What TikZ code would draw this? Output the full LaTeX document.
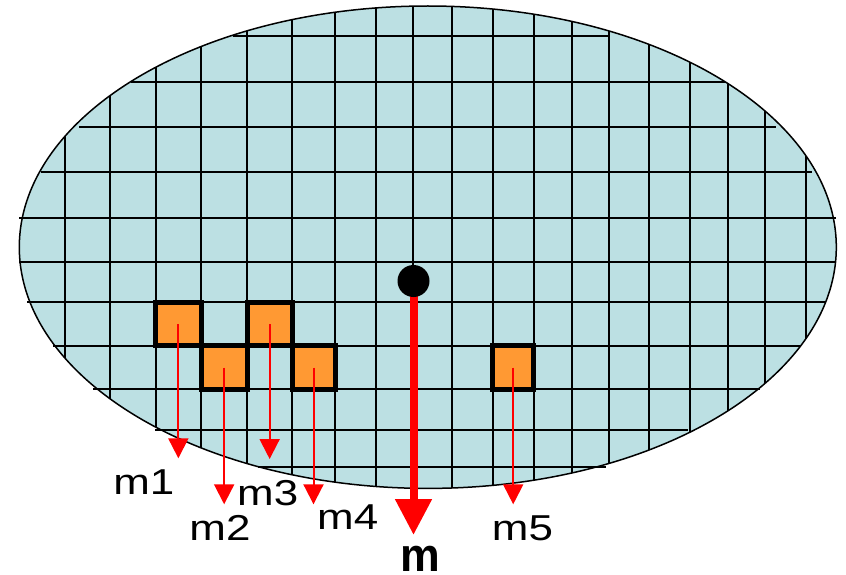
\documentclass[tikz,border=0pt]{standalone}
\usepackage{fontspec}
\usepackage{graphicx}
\setmainfont{Liberation Sans}
\usetikzlibrary{arrows.meta}
\definecolor{wafer}{RGB}{188,224,227}
\definecolor{die}{RGB}{255,153,51}
\definecolor{arr}{RGB}{255,0,0}
\newcommand{\wide}[1]{\scalebox{1.22}[1]{#1}}
\tikzset{
  gridline/.style={black, line width=2pt},
  diebox/.style={draw=black, fill=die, line width=5pt, inner sep=0pt},
  thinarrow/.style={arr, line width=2pt, -{Triangle[width=20pt,length=20pt]}},
  bigarrow/.style={arr, line width=8pt, -{Triangle[width=35pt,length=36pt]}},
  dotnode/.style={circle, fill=black, minimum size=32pt, inner sep=0pt},
  lab/.style={inner sep=0pt, font=\fontsize{36}{36}\selectfont},
  biglab/.style={inner sep=0pt, font=\fontsize{47}{47}\selectfont\bfseries}
}
\begin{document}
\begin{tikzpicture}[x=1pt,y=-1pt]
\useasboundingbox (0,0) rectangle (846,575);
% wafer
\fill[wafer] (427.8,247.2) ellipse [x radius=408.5pt, y radius=241.2pt];
\begin{scope}
\clip (427.8,247.2) ellipse [x radius=408.5pt, y radius=241.2pt];
\foreach \x in {65,110.3,155.7,201,247.3,292,335,376,413.3,452,492.7,533.7,572,609.3,649.3,690.3,728.3,764.7,806.3}
  \draw[gridline] (\x,0) -- (\x,575);
\end{scope}
\foreach \y/\a/\b in {35.7/233/609, 81.7/131/725, 127/79/776, 172.3/40.7/812, 217.7/19.3/836, 262/19.3/836, 302.3/27/826, 345.7/53/800, 389.3/93/760, 430/155/688, 467.3/258/606}
  \draw[gridline] (\a,\y) -- (\b,\y);
\draw[black, line width=1.5pt] (427.8,247.2) ellipse [x radius=408.5pt, y radius=241.2pt];
% dies
\node[diebox, minimum width=45.3pt, minimum height=43.4pt] (s1) at (178.35,324) {};
\node[diebox, minimum width=46.3pt, minimum height=43.6pt] (s2) at (224.15,367.5) {};
\node[diebox, minimum width=44.7pt, minimum height=43.4pt] (s3) at (269.65,324) {};
\node[diebox, minimum width=43pt, minimum height=43.6pt] (s4) at (313.5,367.5) {};
\node[diebox, minimum width=41pt, minimum height=43.6pt] (s5) at (513.2,367.5) {};
% arrow ends
\coordinate (t1) at (178.35,458.3);
\coordinate (t2) at (224.15,504.3);
\coordinate (t3) at (269.65,459);
\coordinate (t4) at (313.5,504.3);
\coordinate (t5) at (513.2,504.3);
\draw[thinarrow] (s1.center) -- (t1);
\draw[thinarrow] (s2.center) -- (t2);
\draw[thinarrow] (s3.center) -- (t3);
\draw[thinarrow] (s4.center) -- (t4);
\draw[thinarrow] (s5.center) -- (t5);
% centre of mass
\coordinate (dc) at (413.5,281);
\coordinate (mt) at (413.5,535);
\draw[bigarrow] (dc) -- (mt);
\node[dotnode] (dot) at (dc) {};
% labels
\node[lab] (m1) at (143.8,482) {\wide{m1}};
\node[lab] (m2) at (220,528) {\wide{m2}};
\node[lab] (m3) at (267.7,493.3) {\wide{m3}};
\node[lab] (m4) at (347.7,516.7) {\wide{m4}};
\node[lab] (m5) at (522.5,528) {\wide{m5}};
\node[biglab] (m) at (420.5,559) {\scalebox{0.95}[1]{m}};
\end{tikzpicture}
\end{document}
